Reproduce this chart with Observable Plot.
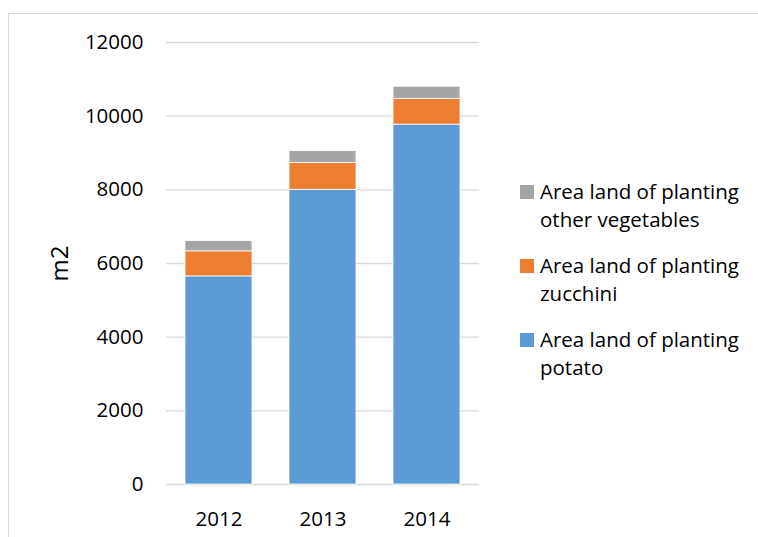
<!DOCTYPE html>
<html>
<head>
<meta charset="utf-8">
<script src="https://cdn.jsdelivr.net/npm/d3@7"></script>
<script src="https://cdn.jsdelivr.net/npm/@observablehq/plot@0.6"></script>
<style>
  html, body { margin: 0; padding: 0; background: #fff; }
  #wrap { position: relative; width: 758px; height: 537px; overflow: hidden; font-family: "Open Sans", "Liberation Sans", sans-serif; }
  #frame { position: absolute; left: 8px; top: 13px; width: 760px; height: 540px; border-left: 1.5px solid #d9d9d9; border-top: 1.5px solid #d9d9d9; }
  #chart { position: absolute; left: 0; top: 0; }
  #legend { position: absolute; left: 520px; top: 0; color: #000; font-size: 20.5px; line-height: 28px; }
  .item { position: absolute; left: 0; width: 240px; }
  .sw { position: absolute; left: 0; top: 8px; width: 14px; height: 14px; }
  .txt { position: absolute; left: 20px; top: 0; white-space: nowrap; }
</style>
</head>
<body>
<div id="wrap">
  <div id="frame"></div>
  <div id="chart"></div>
  <div id="legend"></div>
</div>
<script>
const years = ["2012", "2013", "2014"];
const potato = [5650, 8000, 9770];
const zucchini = [680, 730, 700];
const other = [280, 320, 330];
const seriesNames = ["Area land of planting potato", "Area land of planting zucchini", "Area land of planting other vegetables"];
const seriesLines = [["Area land of planting", "potato"], ["Area land of planting", "zucchini"], ["Area land of planting", "other vegetables"]];
const seriesColors = ["#5B9BD5", "#ED7D31", "#A5A5A5"];
const yTicks = [0, 2000, 4000, 6000, 8000, 10000, 12000];
const yLabel = "m2";

const seriesValues = [potato, zucchini, other];
const data = [];
seriesNames.forEach((s, si) => {
  years.forEach((y, i) => data.push({ year: y, series: s, value: seriesValues[si][i], order: si }));
});

const chart = Plot.plot({
  width: 758,
  height: 537,
  marginLeft: 166,
  marginRight: 279,
  marginTop: 42,
  marginBottom: 53,
  style: { fontFamily: "'Open Sans', 'Liberation Sans', sans-serif", fontSize: "20px", color: "#000", background: "transparent" },
  x: { domain: years, paddingInner: 0.356, paddingOuter: 0.18 },
  y: { domain: [0, 12000] },
  color: { domain: seriesNames, range: seriesColors },
  marks: [
    Plot.ruleY(yTicks, { stroke: "#d9d9d9", strokeWidth: 1.3, strokeOpacity: 1 }),
    Plot.barY(data, { x: "year", y: "value", fill: "series", order: seriesNames, stroke: "white", strokeWidth: 0.8 }),
    Plot.axisY({ ticks: yTicks, tickSize: 0, tickPadding: 23, tickFormat: d => String(d), label: null, fontSize: 20.5, fill: "#000" }),
    Plot.axisY({ ticks: [], tickSize: 0, label: yLabel, labelAnchor: "center", labelOffset: 116, labelArrow: "none", fontSize: 24, fill: "#000" }),
    Plot.axisX({ tickSize: 0, tickPadding: 27, label: null, fontSize: 20.5, fill: "#000" })
  ]
});
document.getElementById("chart").appendChild(chart);

// legend (top item = top of stack)
const legend = document.getElementById("legend");
const legendOrder = [2, 1, 0];
const tops = [177, 251, 325];
legendOrder.forEach((si, k) => {
  const item = document.createElement("div");
  item.className = "item";
  item.style.top = tops[k] + "px";
  const sw = document.createElement("div");
  sw.className = "sw";
  sw.style.background = seriesColors[si];
  const txt = document.createElement("div");
  txt.className = "txt";
  txt.innerHTML = seriesLines[si].join("<br>");
  item.appendChild(sw);
  item.appendChild(txt);
  legend.appendChild(item);
});
</script>
</body>
</html>
